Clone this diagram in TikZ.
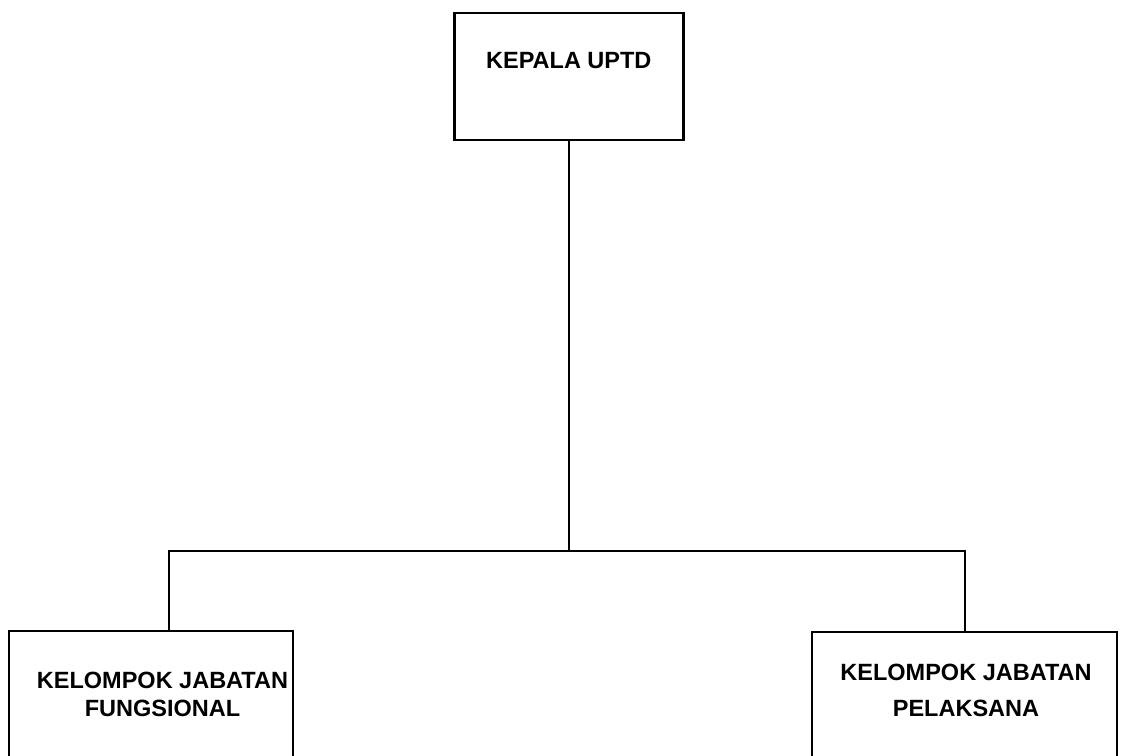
\documentclass[tikz,border=0pt]{standalone}
\usepackage{fontspec}
\setmainfont{Liberation Sans}

\begin{document}
\begin{tikzpicture}[x=1pt,y=1pt]
	\tikzset{unitbox/.style={draw,line width=2.2pt,inner sep=0pt},
		tag/.style={font=\bfseries\fontsize{23.5}{27.7}\selectfont,align=center,anchor=base,inner sep=0pt}}
	\useasboundingbox (0,0) rectangle (1124,755);
	\clip (0,0) rectangle (1124,755);
	\node[unitbox,minimum width=229,minimum height=127] (kepala) at (569,678.5) {};
	\node[unitbox,minimum width=284,minimum height=150] (fung) at (151,49) {};
	\node[unitbox,minimum width=305,minimum height=150] (pel) at (964.5,48) {};
	\node[tag] (kepalatxt) at (568.8,686.7) {KEPALA UPTD};
	\node[tag] (fungtxt) at (162.5,39) {KELOMPOK JABATAN\\FUNGSIONAL};
	\node[tag,font=\bfseries\fontsize{23.5}{36.7}\selectfont] (peltxt) at (966,38.3) {KELOMPOK JABATAN\\PELAKSANA};
	\coordinate (kiri) at (169,204);
	\coordinate (kanan) at (965,204);
	\draw[line width=1.8pt] (kepala.south) -- (kepala.south |- kiri);
	\draw[line width=1.8pt] (fung.north -| kiri) -- (kiri) -- (kanan) -- (pel.north -| kanan);
\end{tikzpicture}
\end{document}
